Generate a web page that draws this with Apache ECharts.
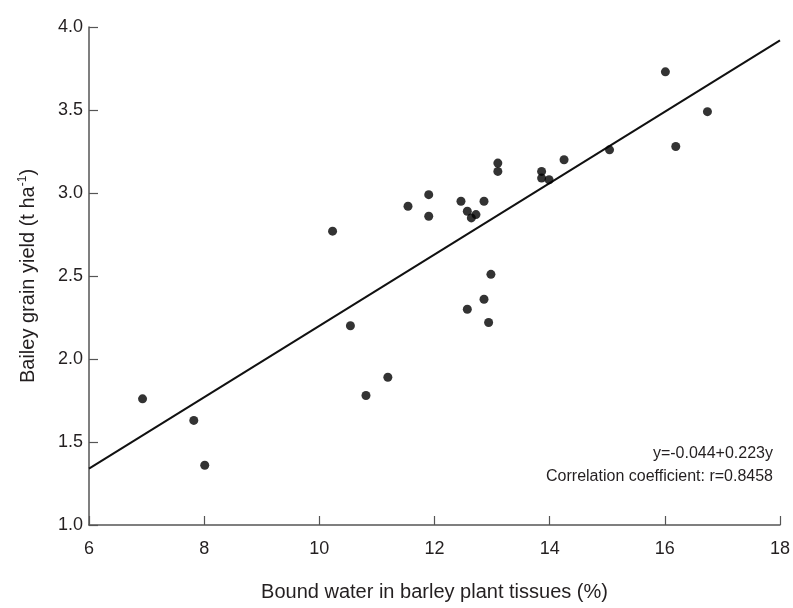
<!DOCTYPE html>
<html>
<head>
<meta charset="utf-8">
<script src="https://cdn.jsdelivr.net/npm/echarts@6/dist/echarts.min.js"></script>
<style>
  html, body { margin: 0; padding: 0; background: #fff; }
  #main { width: 793px; height: 608px; }
</style>
</head>
<body>
<div id="main"></div>
<script>
// bound water (%) vs grain yield (t/ha)
var boundWater = [6.93, 7.82, 8.01, 10.81, 11.19, 10.23, 10.54, 11.54, 11.90, 11.90,
    12.46, 12.57, 12.72, 12.64, 12.86, 13.10, 13.10, 13.86, 13.86, 13.99,
    14.25, 12.98, 12.86, 12.57, 12.94, 16.01, 16.74, 16.19, 15.04];
var grainYield = [1.76, 1.63, 1.36, 1.78, 1.89, 2.77, 2.20, 2.92, 2.99, 2.86,
    2.95, 2.89, 2.87, 2.85, 2.95, 3.18, 3.13, 3.13, 3.09, 3.08,
    3.20, 2.51, 2.36, 2.30, 2.22, 3.73, 3.49, 3.28, 3.26];
var fitX = [6, 18];
var fitY = [1.34, 3.92];
var xTicks = [6, 8, 10, 12, 14, 16, 18];
var yTicks = [1.0, 1.5, 2.0, 2.5, 3.0, 3.5, 4.0];
var noteLines = ['y=-0.044+0.223y', 'Correlation coefficient: r=0.8458'];

var font = '"Liberation Sans Narrow", "Liberation Sans", Arial, sans-serif';
var textColor = '#231f20';
var axisColor = '#555';

var points = [];
for (var i = 0; i < boundWater.length; i++) {
    points.push([boundWater[i], grainYield[i]]);
}
var fitLine = [];
for (var j = 0; j < fitX.length; j++) {
    fitLine.push([fitX[j], fitY[j]]);
}

var myChart = echarts.init(document.getElementById('main'));
myChart.setOption({
    animation: false,
    backgroundColor: '#fff',
    grid: { left: 89, right: 13, top: 27, bottom: 83, containLabel: false },
    xAxis: {
        type: 'value',
        min: xTicks[0],
        max: xTicks[xTicks.length - 1],
        interval: 2,
        name: 'Bound water in barley plant tissues (%)',
        nameLocation: 'middle',
        nameGap: 57,
        nameTextStyle: { fontFamily: font, fontSize: 20, color: textColor },
        axisLine: { lineStyle: { color: axisColor, width: 1.5 } },
        axisTick: { inside: true, length: 9, lineStyle: { color: axisColor, width: 1.2 } },
        axisLabel: { fontFamily: font, fontSize: 18, color: textColor, margin: 15 },
        splitLine: { show: false }
    },
    yAxis: {
        type: 'value',
        min: yTicks[0],
        max: yTicks[yTicks.length - 1],
        interval: 0.5,
        name: '{a|Bailey grain yield (t ha}{s|-1}{a|)}',
        nameLocation: 'middle',
        nameGap: 50,
        nameTextStyle: {
            fontFamily: font, fontSize: 20, color: textColor,
            rich: {
                a: { fontFamily: font, fontSize: 20, color: textColor },
                s: { fontFamily: font, fontSize: 12, color: textColor, verticalAlign: 'top', padding: [0, 0, 10, 0] }
            }
        },
        axisLine: { show: true, lineStyle: { color: axisColor, width: 1.5 } },
        axisTick: { show: true, inside: true, length: 9, lineStyle: { color: axisColor, width: 1.2 } },
        axisLabel: {
            fontFamily: font, fontSize: 18, color: textColor, margin: 6,
            formatter: function (v) { return v.toFixed(1); }
        },
        splitLine: { show: false }
    },
    series: [
        {
            type: 'line',
            data: fitLine,
            symbol: 'none',
            lineStyle: { color: '#111', width: 2 },
            silent: true,
            z: 2
        },
        {
            type: 'scatter',
            data: points,
            symbol: 'circle',
            symbolSize: 9,
            itemStyle: { color: '#000' },
            z: 3
        }
    ],
    graphic: [
        {
            type: 'text',
            right: 20,
            top: 446,
            style: { text: noteLines[0], font: '16px ' + font, fill: textColor, textAlign: 'right' }
        },
        {
            type: 'text',
            right: 20,
            top: 469,
            style: { text: noteLines[1], font: '16px ' + font, fill: textColor, textAlign: 'right' }
        }
    ]
});
</script>
</body>
</html>
